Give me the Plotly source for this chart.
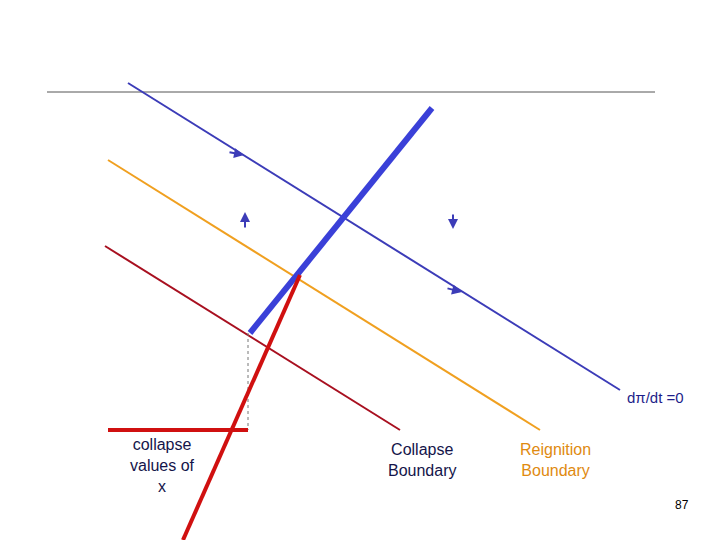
import plotly.graph_objects as go
import math

# Diagram geometry (pixel-space units, y downward)
top_line_x = [47, 655]; top_line_y = [92, 92]
dpi_x = [128, 620]; dpi_y = [83, 390]
reig_x = [108, 540]; reig_y = [160, 430]
coll_x = [105, 400]; coll_y = [246, 430]
traj_blue_x = [250, 432]; traj_blue_y = [333, 108]
traj_red_x = [183, 540 and 183, ][0:1] + [300]; traj_red_y = [540, 275]
base_x = [108, 248]; base_y = [430, 430]
dot_x = [248, 248]; dot_y = [333, 430]

blue_up_x = [272, 320, 340]; blue_up_y = [305, 256, 229]
blue_dn_x = [372, 395, 418]; blue_dn_y = [185, 158, 130]
red_up_x = [215, 242, 268, 297]; red_up_y = [462, 398, 345, 282]

fig = go.Figure()
def line(x, y, c, w, dash=None):
    fig.add_trace(go.Scatter(x=x, y=y, mode="lines", line=dict(color=c, width=w, dash=dash), hoverinfo="skip"))

line(top_line_x, top_line_y, "#555555", 1)
line(dpi_x, dpi_y, "#3c3cb8", 2)
line(reig_x, reig_y, "#f0a020", 2)
line(coll_x, coll_y, "#a81020", 2)
line(dot_x, dot_y, "#777777", 1, "dot")
line(base_x, base_y, "#d01010", 4)
line(traj_blue_x, traj_blue_y, "#3a40d8", 6)
line(traj_red_x, traj_red_y, "#d01010", 4)

def heads(xs, ys, lx, ly, sign, c):
    dx, dy = lx[1] - lx[0], ly[1] - ly[0]
    n = math.hypot(dx, dy); dx, dy = sign * dx / n, sign * dy / n
    for x, y in zip(xs, ys):
        fig.add_annotation(x=x, y=y, ax=x - dx * 3, ay=y - dy * 3, xref="x", yref="y", axref="x", ayref="y",
                           showarrow=True, arrowhead=2, arrowsize=1.3, arrowwidth=5, arrowcolor=c, text="")
heads(blue_up_x, blue_up_y, traj_blue_x, traj_blue_y, 1, "#3a40d8")
heads(blue_dn_x, blue_dn_y, traj_blue_x, traj_blue_y, -1, "#3a40d8")
heads(red_up_x, red_up_y, traj_red_x, traj_red_y, 1, "#d01010")

small = [((228, 152), (244, 155)), ((245, 229), (245, 212)), ((453, 213), (453, 229)), ((446, 288), (462, 292))]
for (x0, y0), (x1, y1) in small:
    fig.add_annotation(x=x1, y=y1, ax=x0, ay=y0, xref="x", yref="y", axref="x", ayref="y",
                       showarrow=True, arrowhead=2, arrowsize=1, arrowwidth=2, arrowcolor="#3c3cb8", text="")

F = "Liberation Sans"
def txt(x, y, t, c, s=16):
    fig.add_annotation(x=x, y=y, text=t, showarrow=False, font=dict(family=F, size=s, color=c), align="center")
txt(655, 397, "dπ/dt =0", "#1e1e8a", 15)
txt(162, 465, "collapse<br>values of<br>x", "#14144a", 16)
txt(422, 460, "Collapse<br>Boundary", "#14144a", 16)
txt(555, 460, "Reignition<br>Boundary", "#e08a10", 16)
txt(682, 505, "87", "#000000", 12)

fig.update_layout(width=720, height=540, margin=dict(l=0, r=0, t=0, b=0), showlegend=False,
                  plot_bgcolor="white", paper_bgcolor="white",
                  xaxis=dict(range=[8, 728], visible=False, fixedrange=True),
                  yaxis=dict(range=[548, 8], visible=False, fixedrange=True))
fig.write_html("out.html")
